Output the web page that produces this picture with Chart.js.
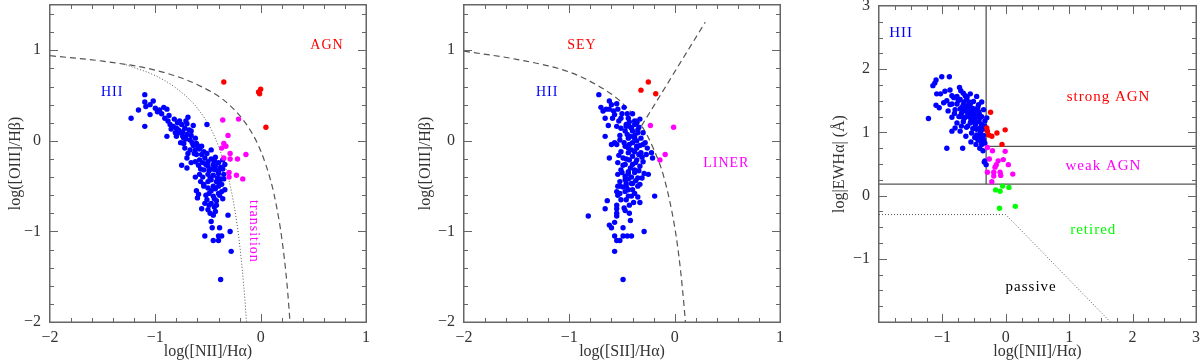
<!DOCTYPE html>
<html>
<head>
<meta charset="utf-8">
<script src="https://cdn.jsdelivr.net/npm/chart.js@4.4.1/dist/chart.umd.min.js"></script>
<style>
  html, body { margin: 0; padding: 0; background: #fff; }
  #wrap { position: relative; width: 1200px; height: 361px; }
  #wrap canvas { position: absolute; top: 0; }
</style>
</head>
<body>
<div id="wrap">
  <canvas id="bptNii" width="400" height="361" style="left:0"></canvas>
  <canvas id="bptSii" width="400" height="361" style="left:400px"></canvas>
  <canvas id="whan" width="400" height="361" style="left:800px"></canvas>
</div>
<script>
// --- panel 1: [NII]/Ha vs [OIII]/Hb ---
const niiHii = [
  [-1.10,0.51],[-1.10,0.43],[-1.09,0.38],[-1.16,0.34],[-1.05,0.40],[-1.00,0.36],[-0.96,0.34],[-0.92,0.37],
  [-0.89,0.35],[-1.23,0.25],[-1.05,0.29],[-1.10,0.16],[-0.91,0.25],[-0.88,0.22],[-0.86,0.18],[-0.83,0.16],
  [-0.85,0.13],[-0.80,0.14],[-0.77,0.22],[-0.75,0.18],[-0.69,0.26],[-0.70,0.19],[-0.72,0.14],[-0.77,0.09],
  [-0.89,0.05],[-0.73,0.03],[-0.70,0.07],[-0.66,0.11],[-0.67,0.01],[-0.62,0.03],[-0.61,-0.03],[-0.73,-0.03],
  [-0.72,-0.08],[-0.67,-0.10],[-0.62,-0.10],[-0.56,-0.06],[-0.54,-0.12],[-0.61,-0.15],[-0.70,-0.19],[-0.66,-0.24],
  [-0.75,-0.27],[-0.70,-0.30],[-0.62,-0.23],[-0.58,-0.21],[-0.53,-0.19],[-0.50,-0.23],[-0.47,-0.20],[-0.43,-0.18],
  [-0.50,-0.28],[-0.45,-0.26],[-0.40,-0.24],[-0.43,-0.32],[-0.54,-0.32],[-0.62,-0.40],[-0.58,-0.37],[-0.50,-0.37],
  [-0.40,-0.36],[-0.35,-0.37],[-0.47,-0.43],[-0.42,-0.45],[-0.54,-0.48],[-0.37,-0.48],[-0.50,-0.52],
  [-0.61,-0.55],[-0.59,-0.59],[-0.54,-0.50],[-0.47,-0.55],[-0.43,-0.53],[-0.40,-0.50],[-0.34,-0.54],[-0.39,-0.60],
  [-0.45,-0.61],[-0.51,-0.65],[-0.53,-0.69],[-0.47,-0.69],[-0.42,-0.66],[-0.42,-0.71],[-0.56,-0.75],[-0.50,-0.76],
  [-0.48,-0.80],[-0.45,-0.82],[-0.31,-0.82],[-0.47,-0.89],[-0.46,-0.96],[-0.39,-0.96],[-0.29,-1.00],[-0.53,-1.05],
  [-0.40,-1.05],[-0.37,-1.05],[-0.45,-1.10],[-0.40,-1.10],[-0.28,-1.22],[-0.38,-1.53],
  [-0.51,0.18],[-0.47,-0.10],[-0.43,-0.28],[-0.40,-0.33],[-0.38,-0.42],[-0.45,-0.38],[-0.48,-0.41],[-0.52,-0.26],
  [-0.56,-0.15],[-0.58,-0.09],[-0.60,-0.05],[-0.64,-0.05],[-0.66,0.06],[-0.68,0.12],[-0.71,0.02],[-0.74,0.10],
  [-0.79,0.20],[-0.82,0.24],[-0.80,0.05],[-0.69,-0.14],[-0.55,-0.40],[-0.45,-0.50],[-0.40,-0.58],[-0.49,-0.58],
  [-0.52,-0.60],[-0.36,-0.21],[-0.38,-0.29],[-0.35,-0.42],[-0.37,-0.56],[-0.44,-0.73],
  [-0.78,0.12],[-0.74,0.05],[-0.65,-0.02],[-0.63,-0.14],[-0.59,-0.27],[-0.57,-0.31],[-0.55,-0.24],[-0.51,-0.14],
  [-0.49,-0.33],[-0.46,-0.31],[-0.44,-0.22],[-0.41,-0.41],[-0.39,-0.46],[-0.36,-0.31],[-0.34,-0.26],[-0.50,-0.45],
  [-0.57,-0.45],[-0.44,-0.64],[-0.49,-0.71],[-0.36,-0.64],[-0.60,-0.63],[-0.43,-0.78],[-0.87,0.28],[-0.94,0.30],
  [-0.98,0.32],[-1.02,0.44],[-0.71,0.22],[-0.64,0.17],[-0.81,0.09],[-0.76,-0.02]
];
const niiTransition = [
  [-0.36,0.23],[-0.21,0.24],[-0.31,0.06],[-0.35,-0.03],[-0.37,-0.08],[-0.33,-0.06],[-0.29,-0.14],[-0.35,-0.19],
  [-0.29,-0.20],[-0.22,-0.20],[-0.14,-0.15],[-0.30,-0.35],[-0.23,-0.38],[-0.30,-0.40],[-0.17,-0.42]
];
const niiAgn = [[-0.35,0.65],[0.00,0.57],[-0.01,0.52],[-0.02,0.54],[0.05,0.15]];
const niiKewley = [
  [-2.0,0.94],[-1.5,0.88],[-1.0,0.78],[-0.6,0.62],[-0.3,0.40],[-0.1,0.12],[0.0,-0.11],
  [0.1,-0.46],[0.15,-0.72],[0.2,-1.07],[0.25,-1.58],[0.28,-2.02]
];
const niiKauffmann = [
  [-1.28,0.84],[-1.0,0.72],[-0.8,0.58],[-0.6,0.36],[-0.45,0.08],[-0.35,-0.23],[-0.3,-0.44],
  [-0.25,-0.73],[-0.2,-1.14],[-0.15,-1.75],[-0.13,-2.09]
];

// --- panel 2: [SII]/Ha vs [OIII]/Hb ---
const siiHii = [
  [-0.72,0.51],[-0.62,0.44],[-0.70,0.37],[-0.65,0.35],[-0.62,0.35],[-0.55,0.41],[-0.54,0.35],[-0.57,0.29],
  [-0.66,0.25],[-0.59,0.25],[-0.51,0.25],[-0.48,0.37],[-0.44,0.25],[-0.43,0.21],[-0.38,0.22],[-0.36,0.20],
  [-0.63,0.17],[-0.55,0.16],[-0.51,0.14],[-0.46,0.16],[-0.41,0.14],[-0.34,0.15],[-0.47,0.11],[-0.40,0.11],
  [-0.35,0.09],[-0.66,0.05],[-0.52,0.01],[-0.44,0.03],[-0.38,0.03],[-0.32,0.03],[-0.55,-0.04],[-0.60,-0.04],
  [-0.47,-0.06],[-0.43,-0.04],[-0.36,-0.06],[-0.30,-0.04],[-0.51,-0.12],[-0.44,-0.13],[-0.38,-0.12],[-0.32,-0.13],
  [-0.27,-0.15],[-0.22,-0.13],[-0.21,-0.19],[-0.62,-0.19],[-0.49,-0.19],[-0.43,-0.21],[-0.36,-0.21],[-0.30,-0.23],
  [-0.54,-0.24],[-0.47,-0.26],[-0.40,-0.26],[-0.33,-0.28],[-0.51,-0.32],[-0.44,-0.34],[-0.38,-0.32],[-0.29,-0.36],
  [-0.25,-0.37],[-0.54,-0.37],[-0.47,-0.39],[-0.41,-0.40],[-0.35,-0.41],[-0.52,-0.45],[-0.46,-0.47],[-0.40,-0.47],
  [-0.33,-0.48],[-0.54,-0.50],[-0.49,-0.51],
  [-0.52,-0.50],[-0.46,-0.50],[-0.35,-0.50],[-0.55,-0.56],[-0.47,-0.56],[-0.44,-0.54],[-0.40,-0.54],[-0.54,-0.60],
  [-0.44,-0.61],[-0.41,-0.61],[-0.35,-0.62],[-0.19,-0.61],[-0.64,-0.66],[-0.51,-0.65],[-0.33,-0.68],[-0.55,-0.71],
  [-0.43,-0.71],[-0.66,-0.75],[-0.55,-0.75],[-0.47,-0.77],[-0.43,-0.80],[-0.55,-0.80],[-0.55,-0.83],[-0.82,-0.83],
  [-0.42,-0.88],[-0.62,-0.93],[-0.60,-0.96],[-0.49,-0.96],[-0.29,-1.00],[-0.57,-1.05],[-0.49,-1.05],[-0.45,-1.05],
  [-0.41,-1.05],[-0.55,-1.10],[-0.52,-1.10],[-0.57,-1.22],[-0.49,-1.53],
  [-0.42,0.05],[-0.40,-0.02],[-0.38,0.06],[-0.36,-0.08],[-0.34,-0.15],[-0.40,-0.17],[-0.44,-0.08],[-0.46,-0.20],
  [-0.42,-0.30],[-0.38,-0.35],[-0.44,-0.42],[-0.50,-0.35],[-0.48,-0.02],[-0.52,0.06],[-0.46,0.18],[-0.40,0.30],
  [-0.35,0.12],[-0.33,-0.05],[-0.37,-0.24],[-0.41,-0.47],
  [-0.60,0.40],[-0.68,0.33],[-0.58,0.33],[-0.50,0.30],[-0.45,0.30],[-0.53,0.22],[-0.43,0.16],[-0.38,0.18],
  [-0.30,0.09],[-0.28,-0.02],[-0.26,-0.08],[-0.31,-0.18],[-0.34,-0.33],[-0.31,-0.41],[-0.37,-0.44],[-0.44,-0.36],
  [-0.49,-0.27],[-0.53,-0.16],[-0.57,-0.02],[-0.45,0.07],[-0.41,-0.10],[-0.47,-0.43],[-0.52,-0.58],[-0.38,-0.58],
  [-0.46,-0.65],[-0.48,-0.74],[-0.39,-0.68],[-0.57,-0.90],[-0.36,0.00],[-0.33,0.24]
];
const siiLiner = [[-0.23,0.17],[-0.01,0.15],[-0.09,-0.15],[-0.14,-0.21]];
const siiSey = [[-0.32,0.56],[-0.25,0.65],[-0.18,0.52]];
const siiKewley = [
  [-2.0,0.99],[-1.5,0.90],[-1.0,0.76],[-0.7,0.59],[-0.5,0.42],[-0.3,0.14],[-0.2,-0.09],
  [-0.1,-0.41],[0.0,-0.95],[0.05,-1.37],[0.1,-1.97],[0.105,-2.05]
];
const siiSeyLiner = [[-0.315,0.165],[0.29,1.31]];

// --- panel 3: WHAN ---
const whanHii = [
  [-1.01,1.88],[-0.89,1.88],[-1.10,1.83],[-1.12,1.78],[-1.15,1.74],[-0.96,1.65],[-0.88,1.67],[-0.73,1.71],
  [-0.71,1.66],[-1.09,1.61],[-1.03,1.61],[-0.85,1.58],[-0.77,1.57],[-0.64,1.58],[-0.56,1.61],[-0.46,1.57],
  [-0.93,1.50],[-0.72,1.52],[-0.62,1.52],[-0.51,1.49],[-1.10,1.43],[-1.05,1.39],[-0.88,1.44],[-0.77,1.45],
  [-0.67,1.44],[-0.56,1.45],[-0.43,1.44],[-0.38,1.48],[-0.91,1.34],[-0.80,1.36],[-0.72,1.37],[-0.64,1.38],
  [-0.59,1.34],[-0.51,1.36],[-0.43,1.33],[-0.35,1.36],[-1.22,1.22],[-0.85,1.24],[-0.72,1.25],[-0.64,1.24],
  [-0.56,1.27],[-0.48,1.23],[-0.41,1.23],[-0.30,1.23],[-0.77,1.15],[-0.67,1.17],[-0.56,1.15],[-0.46,1.16],
  [-0.38,1.12],[-0.80,1.07],[-0.62,1.08],[-0.51,1.06],[-0.41,1.07],[-0.85,1.02],[-0.72,1.02],[-0.54,0.99],
  [-0.46,0.96],[-0.63,0.94],[-0.41,0.92],[-0.35,0.88],[-0.55,0.85],[-0.47,0.81],[-0.38,0.81],[-0.33,0.83],
  [-0.93,0.75],[-0.68,0.75],[-0.41,0.75],[-0.36,0.71],[-0.34,0.53],[-0.31,0.49],[-0.33,0.55],
  [-0.60,1.30],[-0.55,1.20],[-0.50,1.30],[-0.45,1.25],[-0.62,1.42],[-0.70,1.30],[-0.48,1.12],[-0.40,1.00],
  [-0.52,1.38],[-0.58,1.48],[-0.66,1.48],[-0.74,1.25],[-0.60,1.10],[-0.44,1.40],[-0.36,1.05],[-0.35,0.95],
  [-0.54,1.22],[-0.46,1.05],
  [-0.82,1.55],[-0.75,1.50],[-0.69,1.40],[-0.65,1.34],[-0.57,1.40],[-0.53,1.34],[-0.47,1.36],[-0.42,1.30],
  [-0.38,1.25],[-0.33,1.18],[-0.42,1.17],[-0.50,1.17],[-0.58,1.25],[-0.66,1.22],[-0.70,1.10],[-0.52,1.06],
  [-0.44,0.88],[-0.39,0.86],[-0.49,0.92],[-0.33,1.10],[-0.81,1.30],[-0.85,1.45],[-0.98,1.47],[-0.67,1.62],
  [-0.61,1.56]
];
const whanStrong = [[-0.24,1.32],[-0.30,1.07],[-0.29,1.02],[-0.22,0.94],[-0.14,0.99],[-0.01,1.04],[-0.06,0.81],[-0.27,0.96]];
const whanWeak = [
  [-0.29,0.76],[-0.21,0.71],[-0.01,0.70],[-0.26,0.58],[-0.12,0.55],[-0.04,0.57],[-0.15,0.49],[0.04,0.49],
  [-0.17,0.45],[-0.29,0.37],[-0.19,0.37],[-0.09,0.37],[-0.19,0.31],[-0.08,0.32],[0.11,0.34],[-0.22,0.22]
];
const whanRetired = [[-0.16,0.09],[-0.09,0.07],[-0.05,0.15],[0.05,0.13],[-0.10,-0.20],[0.15,-0.17]];
const whanVertical = [[-0.31,0.18],[-0.31,3.0]];
const whanLow = [[-2.0,0.18],[3.0,0.18]];
const whanHigh = [[-0.31,0.78],[3.0,0.78]];
const whanPassive = [[-2.0,-0.3],[0.0,-0.3],[1.65,-2.0]];

// tick labels shown on each axis
const niiXTicks = [-2, -1, 0, 1], niiYTicks = [-2, -1, 0, 1];
const siiXTicks = [-2, -1, 0, 1], siiYTicks = [-2, -1, 0, 1];
const whanXTicks = [-1, 0, 1, 2, 3], whanYTicks = [-1, 0, 1, 2, 3];

const SERIF = '"Liberation Serif", "DejaVu Serif", serif';
const BLUE = '#0000ff', RED = '#ff0000', MAGENTA = '#ff00ff', GREEN = '#00ff00', LINE = '#555';
const FRAME = '#666';

const fmt = v => (v < 0 ? '\u2212' + Math.abs(v) : String(v));
const pts = arr => arr.map(p => ({ x: p[0], y: p[1] }));

const dots = (arr, color) => ({
    data: pts(arr), backgroundColor: color, borderWidth: 0,
    pointRadius: 2.7, pointHoverRadius: 2.7
});
const curve = (arr, dash, width) => ({
    data: pts(arr), showLine: true, pointRadius: 0, borderColor: LINE,
    borderWidth: width || 1.2, borderDash: dash, tension: 0.4,
    cubicInterpolationMode: 'monotone', fill: false
});
// straight segments, no smoothing
const segs = (arr, dash, width) => Object.assign(curve(arr, dash, width), { tension: 0, cubicInterpolationMode: 'default' });

// frame with inward ticks on all four sides + region labels
const framePlugin = {
    id: 'frame',
    afterDraw(chart) {
        const opts = chart.config.options.plugins.frame;
        const ctx = chart.ctx;
        const x = chart.scales.x, y = chart.scales.y;
        const L = Math.round(x.getPixelForValue(x.min)), R = Math.round(x.getPixelForValue(x.max));
        const T = Math.round(y.getPixelForValue(y.max)), B = Math.round(y.getPixelForValue(y.min));
        ctx.save();
        ctx.fillStyle = FRAME;
        ctx.fillRect(L - 1, T - 1, R - L + 2, 1.5);
        ctx.fillRect(L - 1, B - 0.5, R - L + 2, 1.5);
        ctx.fillRect(L - 1, T - 1, 1.5, B - T + 2);
        ctx.fillRect(R - 0.5, T - 1, 1.5, B - T + 2);

        const isMajor = v => Math.abs(v - Math.round(v)) < 1e-6;
        const nx = Math.floor((x.max - x.min) / opts.minor + 1e-6);
        for (let i = 1; i < nx; i++) {
            const v = x.min + i * opts.minor;
            const px = Math.round(x.getPixelForValue(v));
            const len = isMajor(v) ? 8 : 4;
            ctx.fillRect(px, B - len, 1, len);
            ctx.fillRect(px, T, 1, len);
        }
        const ny = Math.floor((y.max - y.min) / opts.minor + 1e-6);
        for (let i = 1; i <= ny; i++) {
            const v = y.min + i * opts.minor;
            if (v >= y.max - 1e-6) continue;
            const py = Math.round(y.getPixelForValue(v));
            const len = isMajor(v) ? 8 : 4;
            ctx.fillRect(L, py, len, 1);
            ctx.fillRect(R - len, py, len, 1);
        }
        ctx.restore();

        ctx.save();
        ctx.textAlign = 'center';
        ctx.textBaseline = 'middle';
        ctx.letterSpacing = '1px';
        opts.notes.forEach(n => {
            ctx.font = (n.size || 14) + 'px ' + SERIF;
            ctx.fillStyle = n.color;
            const px = x.getPixelForValue(n.x), py = y.getPixelForValue(n.y);
            if (n.rotate) {
                ctx.save();
                ctx.translate(px, py);
                ctx.rotate(Math.PI / 2);
                ctx.fillText(n.text, 0, 0);
                ctx.restore();
            } else {
                ctx.fillText(n.text, px, py);
            }
        });
        ctx.restore();
    }
};

function makeScales(xr, yr, xShow, yShow, xTitle, yTitle, yWidth, yTitlePad) {
    const tickFont = { family: SERIF, size: 16 };
    return {
        x: {
            type: 'linear', min: xr[0], max: xr[1],
            grid: { display: false, drawTicks: false }, border: { display: false },
            ticks: {
                stepSize: 1, autoSkip: false, maxRotation: 0, padding: 6, color: '#333', font: tickFont,
                callback: v => (xShow.includes(v) ? fmt(v) : '')
            },
            title: { display: true, text: xTitle, color: '#333', font: { family: SERIF, size: 16 }, padding: { top: 0, bottom: 0 } },
            afterFit: s => { s.height = 39; s.paddingLeft = 0; s.paddingRight = 0; }
        },
        y: {
            type: 'linear', min: yr[0], max: yr[1],
            grid: { display: false, drawTicks: false }, border: { display: false },
            ticks: {
                stepSize: 1, autoSkip: false, padding: 9, color: '#333', font: tickFont,
                callback: v => (yShow.includes(v) ? fmt(v) : '')
            },
            title: { display: true, text: yTitle, color: '#333', font: { family: SERIF, size: 16 }, padding: { top: yTitlePad, bottom: 0 } },
            afterFit: s => { s.width = yWidth; s.paddingTop = 0; s.paddingBottom = 0; }
        }
    };
}

function makeChart(id, datasets, scales, pad, minor, notes) {
    return new Chart(document.getElementById(id), {
        type: 'scatter',
        data: { datasets },
        options: {
            responsive: false, animation: false, devicePixelRatio: 1,
            layout: { padding: pad },
            scales,
            plugins: { legend: { display: false }, tooltip: { enabled: false }, frame: { minor, notes } }
        },
        plugins: [framePlugin]
    });
}

makeChart('bptNii',
    [dots(niiAgn, RED), dots(niiTransition, MAGENTA), dots(niiHii, BLUE),
     curve(niiKewley, [6, 4]), curve(niiKauffmann, [1, 2], 1)],
    makeScales([-2, 1], [-2, 1.5], niiXTicks, niiYTicks, 'log([NII]/H\u03b1)', 'log([OIII]/H\u03b2)', 50, 6),
    { top: 5, right: 34, left: 0, bottom: 0 }, 0.2,
    [{ text: 'AGN', x: 0.63, y: 1.05, color: RED },
     { text: 'HII', x: -1.41, y: 0.54, color: BLUE },
     { text: 'transition', x: -0.07, y: -1.0, color: MAGENTA, rotate: true }]
);

makeChart('bptSii',
    [dots(siiSey, RED), dots(siiLiner, MAGENTA), dots(siiHii, BLUE),
     curve(siiKewley, [6, 4]), segs(siiSeyLiner, [6, 4])],
    makeScales([-2, 1], [-2, 1.5], siiXTicks, siiYTicks, 'log([SII]/H\u03b1)', 'log([OIII]/H\u03b2)', 64, 16),
    { top: 5, right: 20, left: 0, bottom: 0 }, 0.2,
    [{ text: 'SEY', x: -0.88, y: 1.05, color: RED },
     { text: 'HII', x: -1.21, y: 0.54, color: BLUE },
     { text: 'LINER', x: 0.49, y: -0.25, color: MAGENTA }]
);

makeChart('whan',
    [dots(whanStrong, RED), dots(whanWeak, MAGENTA), dots(whanRetired, GREEN), dots(whanHii, BLUE),
     segs(whanVertical, [], 1.3), segs(whanLow, [], 1.3), segs(whanHigh, [], 1.3),
     segs(whanPassive, [1, 2], 1)],
    makeScales([-2, 3], [-2, 3], whanXTicks, whanYTicks, 'log([NII]/H\u03b1)', 'log|EWH\u03b1| (\u00c5)', 79, 30),
    { top: 6, right: 4, left: 0, bottom: 0 }, 0.25,
    [{ text: 'HII', x: -1.65, y: 2.57, color: BLUE, size: 15 },
     { text: 'strong AGN', x: 1.62, y: 1.56, color: RED, size: 15 },
     { text: 'weak AGN', x: 1.54, y: 0.46, color: MAGENTA, size: 15 },
     { text: 'retired', x: 1.38, y: -0.54, color: GREEN, size: 15 },
     { text: 'passive', x: 0.40, y: -1.44, color: '#000', size: 15 }]
);
</script>
</body>
</html>
